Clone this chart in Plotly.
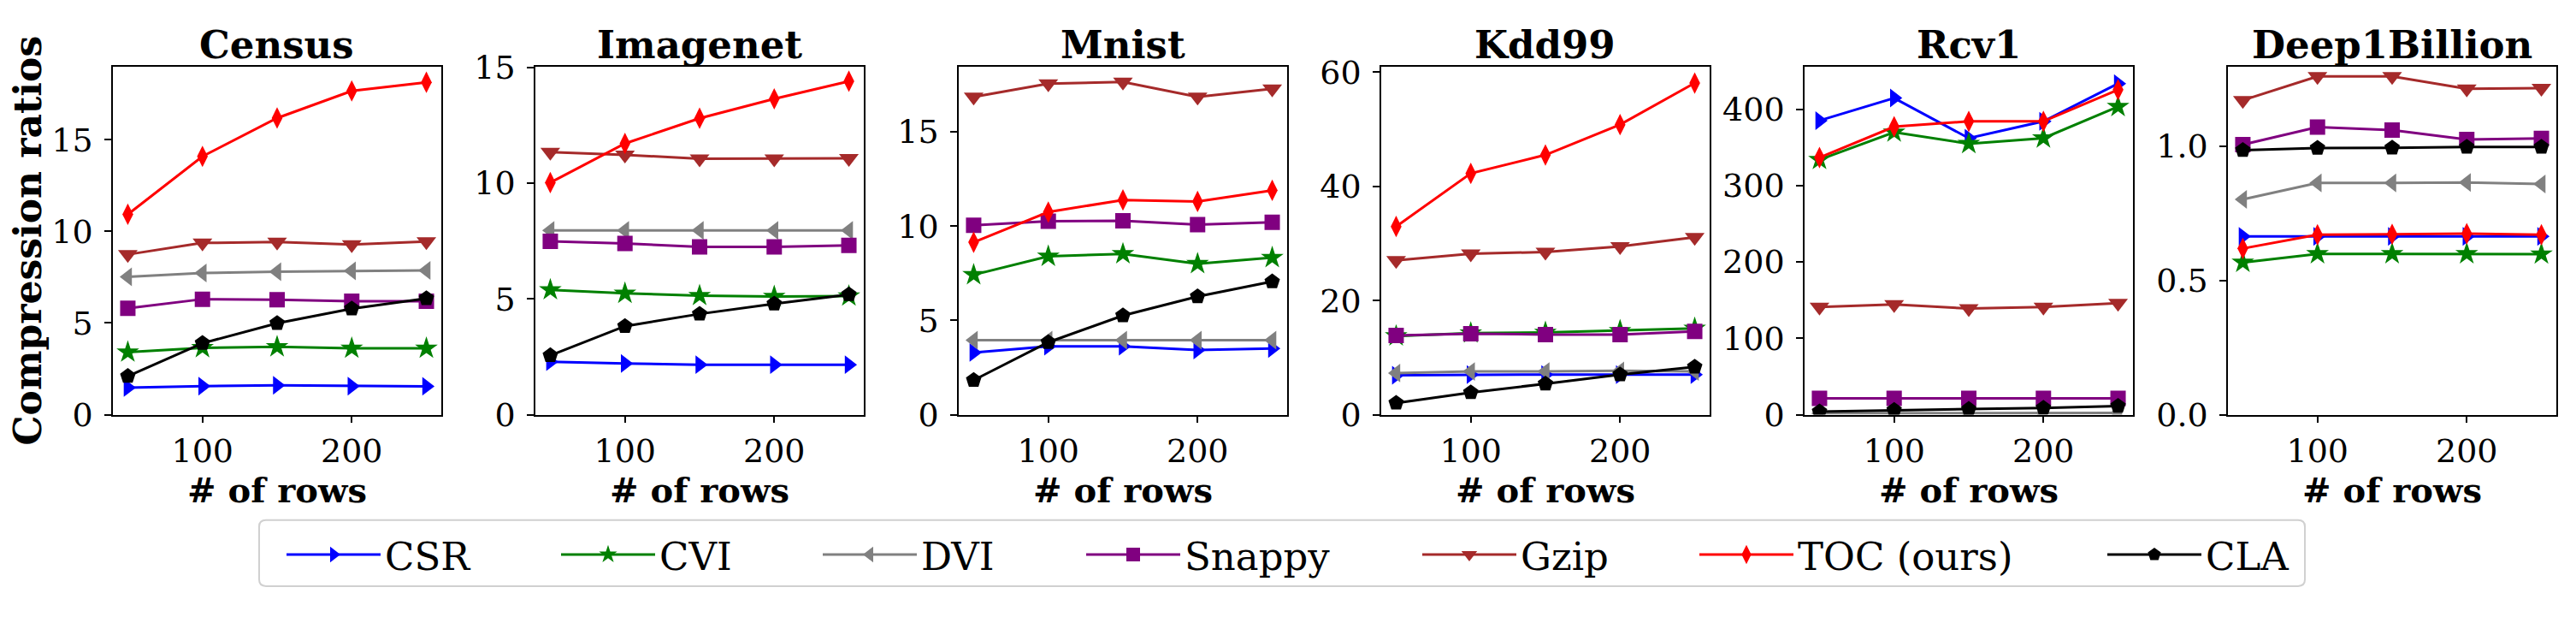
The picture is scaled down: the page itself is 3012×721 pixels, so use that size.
import plotly.graph_objects as go

rows = [50, 100, 150, 200, 250]
datasets = ["Census", "Imagenet", "Mnist", "Kdd99", "Rcv1", "Deep1Billion"]
methods = ["CSR", "CVI", "DVI", "Snappy", "Gzip", "TOC (ours)", "CLA"]

csr = [[1.48, 1.56, 1.60, 1.56, 1.55],
       [2.29, 2.21, 2.16, 2.16, 2.16],
       [3.30, 3.63, 3.63, 3.43, 3.51],
       [6.92, 7.03, 7.03, 7.03, 7.03],
       [385, 414.5, 362, 384, 433.5],
       [0.664, 0.664, 0.664, 0.664, 0.664]]
cvi = [[3.41, 3.65, 3.70, 3.62, 3.62],
       [5.39, 5.24, 5.14, 5.10, 5.12],
       [7.42, 8.40, 8.53, 8.01, 8.33],
       [13.78, 14.30, 14.40, 14.70, 15.10],
       [333.9, 369.8, 354.8, 362, 403.2],
       [0.567, 0.599, 0.599, 0.599, 0.598]]
dvi = [[7.52, 7.73, 7.80, 7.85, 7.87],
       [7.96, 7.96, 7.96, 7.96, 7.96],
       [3.95, 3.95, 3.95, 3.95, 3.95],
       [7.30, 7.57, 7.57, 7.68, 7.57],
       [1.8, 2.0, 2.1, 2.2, 2.3],
       [0.802, 0.863, 0.863, 0.865, 0.859]]
snappy = [[5.80, 6.30, 6.27, 6.19, 6.19],
          [7.49, 7.39, 7.25, 7.25, 7.31],
          [10.05, 10.26, 10.29, 10.08, 10.21],
          [13.90, 14.20, 14.05, 14.05, 14.60],
          [21.4, 21.4, 21.4, 21.4, 21.4],
          [1.006, 1.071, 1.060, 1.025, 1.029]]
gzip = [[8.74, 9.37, 9.42, 9.28, 9.45],
        [11.34, 11.22, 11.05, 11.05, 11.07],
        [16.86, 17.56, 17.65, 16.86, 17.29],
        [27.03, 28.20, 28.50, 29.46, 31.08],
        [141, 144.4, 139, 141, 146],
        [1.171, 1.260, 1.260, 1.214, 1.216]]
toc = [[10.93, 14.09, 16.18, 17.66, 18.13],
       [10.02, 11.71, 12.80, 13.64, 14.40],
       [9.15, 10.75, 11.39, 11.31, 11.90],
       [32.97, 42.27, 45.51, 50.81, 58.10],
       [336.7, 377, 384, 384, 425.4],
       [0.619, 0.670, 0.672, 0.674, 0.670]]
cla = [[2.10, 3.90, 4.99, 5.78, 6.34],
       [2.56, 3.82, 4.35, 4.79, 5.19],
       [1.83, 3.84, 5.26, 6.27, 7.06],
       [2.05, 3.89, 5.41, 7.03, 8.38],
       [4.0, 6.0, 7.3, 8.9, 11.3],
       [0.985, 0.993, 0.994, 0.997, 0.997]]

series = [csr, cvi, dvi, snappy, gzip, toc, cla]
colors = ["blue", "green", "gray", "purple", "brown", "red", "black"]
symbols = ["triangle-right", "star", "triangle-left", "square", "triangle-down", "diamond-tall", "pentagon"]
msizes = [19, 20, 19, 18, 20, 18, 19]
ydticks = [5, 5, 5, 20, 100, 0.5]

W, H = 3012, 721
px_left = [132, 626, 1121, 1615, 2110, 2605]
px_w = 384
plot_top, plot_bot = 61, 493
legend_text_px = [452, 773, 1079, 1387, 1780, 2104, 2581]
FONT = "DejaVu Serif"
ITEMW = 110

legend_names = ["legend"] + ["legend%d" % (i + 1) for i in range(1, len(methods))]

fig = go.Figure()
for di, name in enumerate(datasets):
    ax = "" if di == 0 else str(di + 1)
    for mi, m in enumerate(methods):
        fig.add_trace(go.Scatter(
            x=rows, y=series[mi][di], name=m, legendgroup=m,
            legend=legend_names[mi],
            showlegend=(di == 0), mode="lines+markers",
            line=dict(color=colors[mi], width=3),
            marker=dict(symbol=symbols[mi], size=msizes[mi], color=colors[mi], line=dict(width=0)),
            xaxis="x" + ax, yaxis="y" + ax))

layout = dict(width=W, height=H, margin=dict(l=0, r=0, t=0, b=0),
              paper_bgcolor="white", plot_bgcolor="white",
              font=dict(family=FONT, size=38, color="black"),
              showlegend=True)

annotations = []
for di, name in enumerate(datasets):
    ax = "" if di == 0 else str(di + 1)
    x0 = px_left[di] / W
    x1 = (px_left[di] + px_w) / W
    xr0 = rows[0] - 0.05 * (rows[-1] - rows[0])
    xr1 = rows[-1] + 0.05 * (rows[-1] - rows[0])
    allv = [v for s in series for v in s[di]]
    ymax = max(allv) + 0.05 * (max(allv) - min(allv))
    common = dict(showline=True, linecolor="black", linewidth=1.5, mirror=True,
                  ticks="outside", ticklen=8, tickwidth=1.5, tickcolor="black",
                  showgrid=False, zeroline=False,
                  tickfont=dict(family=FONT, size=38, color="black"))
    layout["xaxis" + ax] = dict(domain=[x0, x1], range=[xr0, xr1], tickmode="array",
                                tickvals=[100, 200], ticktext=["100", "200"],
                                anchor="y" + ax,
                                title=dict(text="<b># of rows</b>", standoff=4,
                                           font=dict(family=FONT, size=40, color="black")),
                                **common)
    layout["yaxis" + ax] = dict(domain=[1 - plot_bot / H, 1 - plot_top / H], range=[0, ymax],
                                dtick=ydticks[di], tick0=0, anchor="x" + ax,
                                tickformat=".1f" if di == 5 else "d",
                                ticklabelstandoff=6,
                                **common)
    annotations.append(dict(text="<b>" + name + "</b>", x=(x0 + x1) / 2, y=1 - 33 / H,
                            xref="paper", yref="paper", xanchor="center", yanchor="middle",
                            showarrow=False, font=dict(family=FONT, size=45, color="black")))

annotations.append(dict(text="<b>Compression ratios</b>", x=32 / W, y=1 - 277 / H,
                        xref="paper", yref="paper", xanchor="center", yanchor="middle",
                        textangle=-90, showarrow=False,
                        font=dict(family=FONT, size=44, color="black")))
layout["annotations"] = annotations

# rounded legend frame
bx0, bx1, by0, by1 = 303 / W, 2695 / W, 1 - 706 / H, 1 - 624 / H
rx, ry = 8 / W, 8 / H
path = (f"M{bx0 + rx},{by0} L{bx1 - rx},{by0} Q{bx1},{by0} {bx1},{by0 + ry} "
        f"L{bx1},{by1 - ry} Q{bx1},{by1} {bx1 - rx},{by1} L{bx0 + rx},{by1} "
        f"Q{bx0},{by1} {bx0},{by1 - ry} L{bx0},{by0 + ry} Q{bx0},{by0} {bx0 + rx},{by0} Z")
layout["shapes"] = [dict(type="path", path=path, xref="paper", yref="paper",
                         line=dict(color="#d0d0d0", width=2), fillcolor="rgba(255,255,255,0.8)",
                         layer="below")]
for mi, ln in enumerate(legend_names):
    layout[ln] = dict(orientation="h", x=(legend_text_px[mi] - ITEMW - 12) / W, xanchor="left",
                      y=1 - 667 / H, yanchor="middle",
                      bgcolor="rgba(0,0,0,0)", borderwidth=0, itemsizing="trace",
                      itemwidth=ITEMW,
                      font=dict(family=FONT, size=45, color="black"))

fig.update_layout(**layout)
fig.write_html("out.html")
